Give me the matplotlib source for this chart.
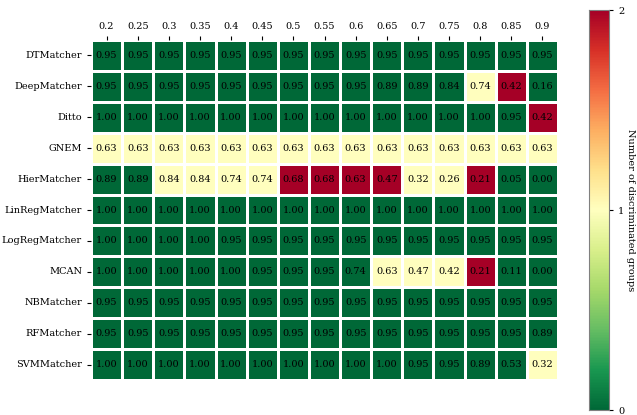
import numpy as np
import matplotlib
matplotlib.use("Agg")
import matplotlib.pyplot as plt
import seaborn as sns

thresholds = ["0.2", "0.25", "0.3", "0.35", "0.4", "0.45", "0.5", "0.55",
              "0.6", "0.65", "0.7", "0.75", "0.8", "0.85", "0.9"]
matchers = ["DTMatcher", "DeepMatcher", "Ditto", "GNEM", "HierMatcher",
            "LinRegMatcher", "LogRegMatcher", "MCAN", "NBMatcher",
            "RFMatcher", "SVMMatcher"]

# number of discriminated groups (cell colour)
groups = [
    [0, 0, 0, 0, 0, 0, 0, 0, 0, 0, 0, 0, 0, 0, 0],
    [0, 0, 0, 0, 0, 0, 0, 0, 0, 0, 0, 0, 1, 2, 0],
    [0, 0, 0, 0, 0, 0, 0, 0, 0, 0, 0, 0, 0, 0, 2],
    [1, 1, 1, 1, 1, 1, 1, 1, 1, 1, 1, 1, 1, 1, 1],
    [0, 0, 1, 1, 1, 1, 2, 2, 2, 2, 1, 1, 2, 0, 0],
    [0, 0, 0, 0, 0, 0, 0, 0, 0, 0, 0, 0, 0, 0, 0],
    [0, 0, 0, 0, 0, 0, 0, 0, 0, 0, 0, 0, 0, 0, 0],
    [0, 0, 0, 0, 0, 0, 0, 0, 0, 1, 1, 1, 2, 0, 0],
    [0, 0, 0, 0, 0, 0, 0, 0, 0, 0, 0, 0, 0, 0, 0],
    [0, 0, 0, 0, 0, 0, 0, 0, 0, 0, 0, 0, 0, 0, 0],
    [0, 0, 0, 0, 0, 0, 0, 0, 0, 0, 0, 0, 0, 0, 1],
]

# annotated scores
scores = [
    [0.95] * 15,
    [0.95] * 9 + [0.89, 0.89, 0.84, 0.74, 0.42, 0.16],
    [1.00] * 13 + [0.95, 0.42],
    [0.63] * 15,
    [0.89, 0.89, 0.84, 0.84, 0.74, 0.74, 0.68, 0.68, 0.63, 0.47, 0.32, 0.26, 0.21, 0.05, 0.00],
    [1.00] * 15,
    [1.00] * 4 + [0.95] * 11,
    [1.00] * 5 + [0.95] * 3 + [0.74, 0.63, 0.47, 0.42, 0.21, 0.11, 0.00],
    [0.95] * 15,
    [0.95] * 14 + [0.89],
    [1.00] * 10 + [0.95, 0.95, 0.89, 0.53, 0.32],
]

plt.rcParams["font.family"] = "DejaVu Serif"
fs = 7

fig = plt.figure(figsize=(6.37, 4.15), dpi=100)
ax = fig.add_axes([91 / 637, 35 / 415, 467 / 637, 340 / 415])
cax = fig.add_axes([589 / 637, 5 / 415, 20 / 637, 400 / 415])

sns.heatmap(np.array(groups), ax=ax, cbar_ax=cax, cmap="RdYlGn_r", vmin=0, vmax=2,
            annot=np.array(scores), fmt=".2f", annot_kws={"size": fs, "color": "black"},
            linewidths=2, linecolor="white",
            xticklabels=thresholds, yticklabels=matchers,
            cbar_kws={"ticks": [0, 1, 2]})

ax.xaxis.tick_top()
ax.tick_params(axis="x", labelsize=fs, rotation=0, length=3)
ax.tick_params(axis="y", labelsize=fs, rotation=0, length=3)

cax.tick_params(labelsize=fs, length=3)
cax.set_ylabel("Number of discriminated groups", rotation=270, fontsize=fs, va="center")
cax.yaxis.set_label_coords(2.05, 0.5)
for s in cax.spines.values():
    s.set_visible(True)
    s.set_color("gray")

fig.savefig("out.png", dpi=100)
